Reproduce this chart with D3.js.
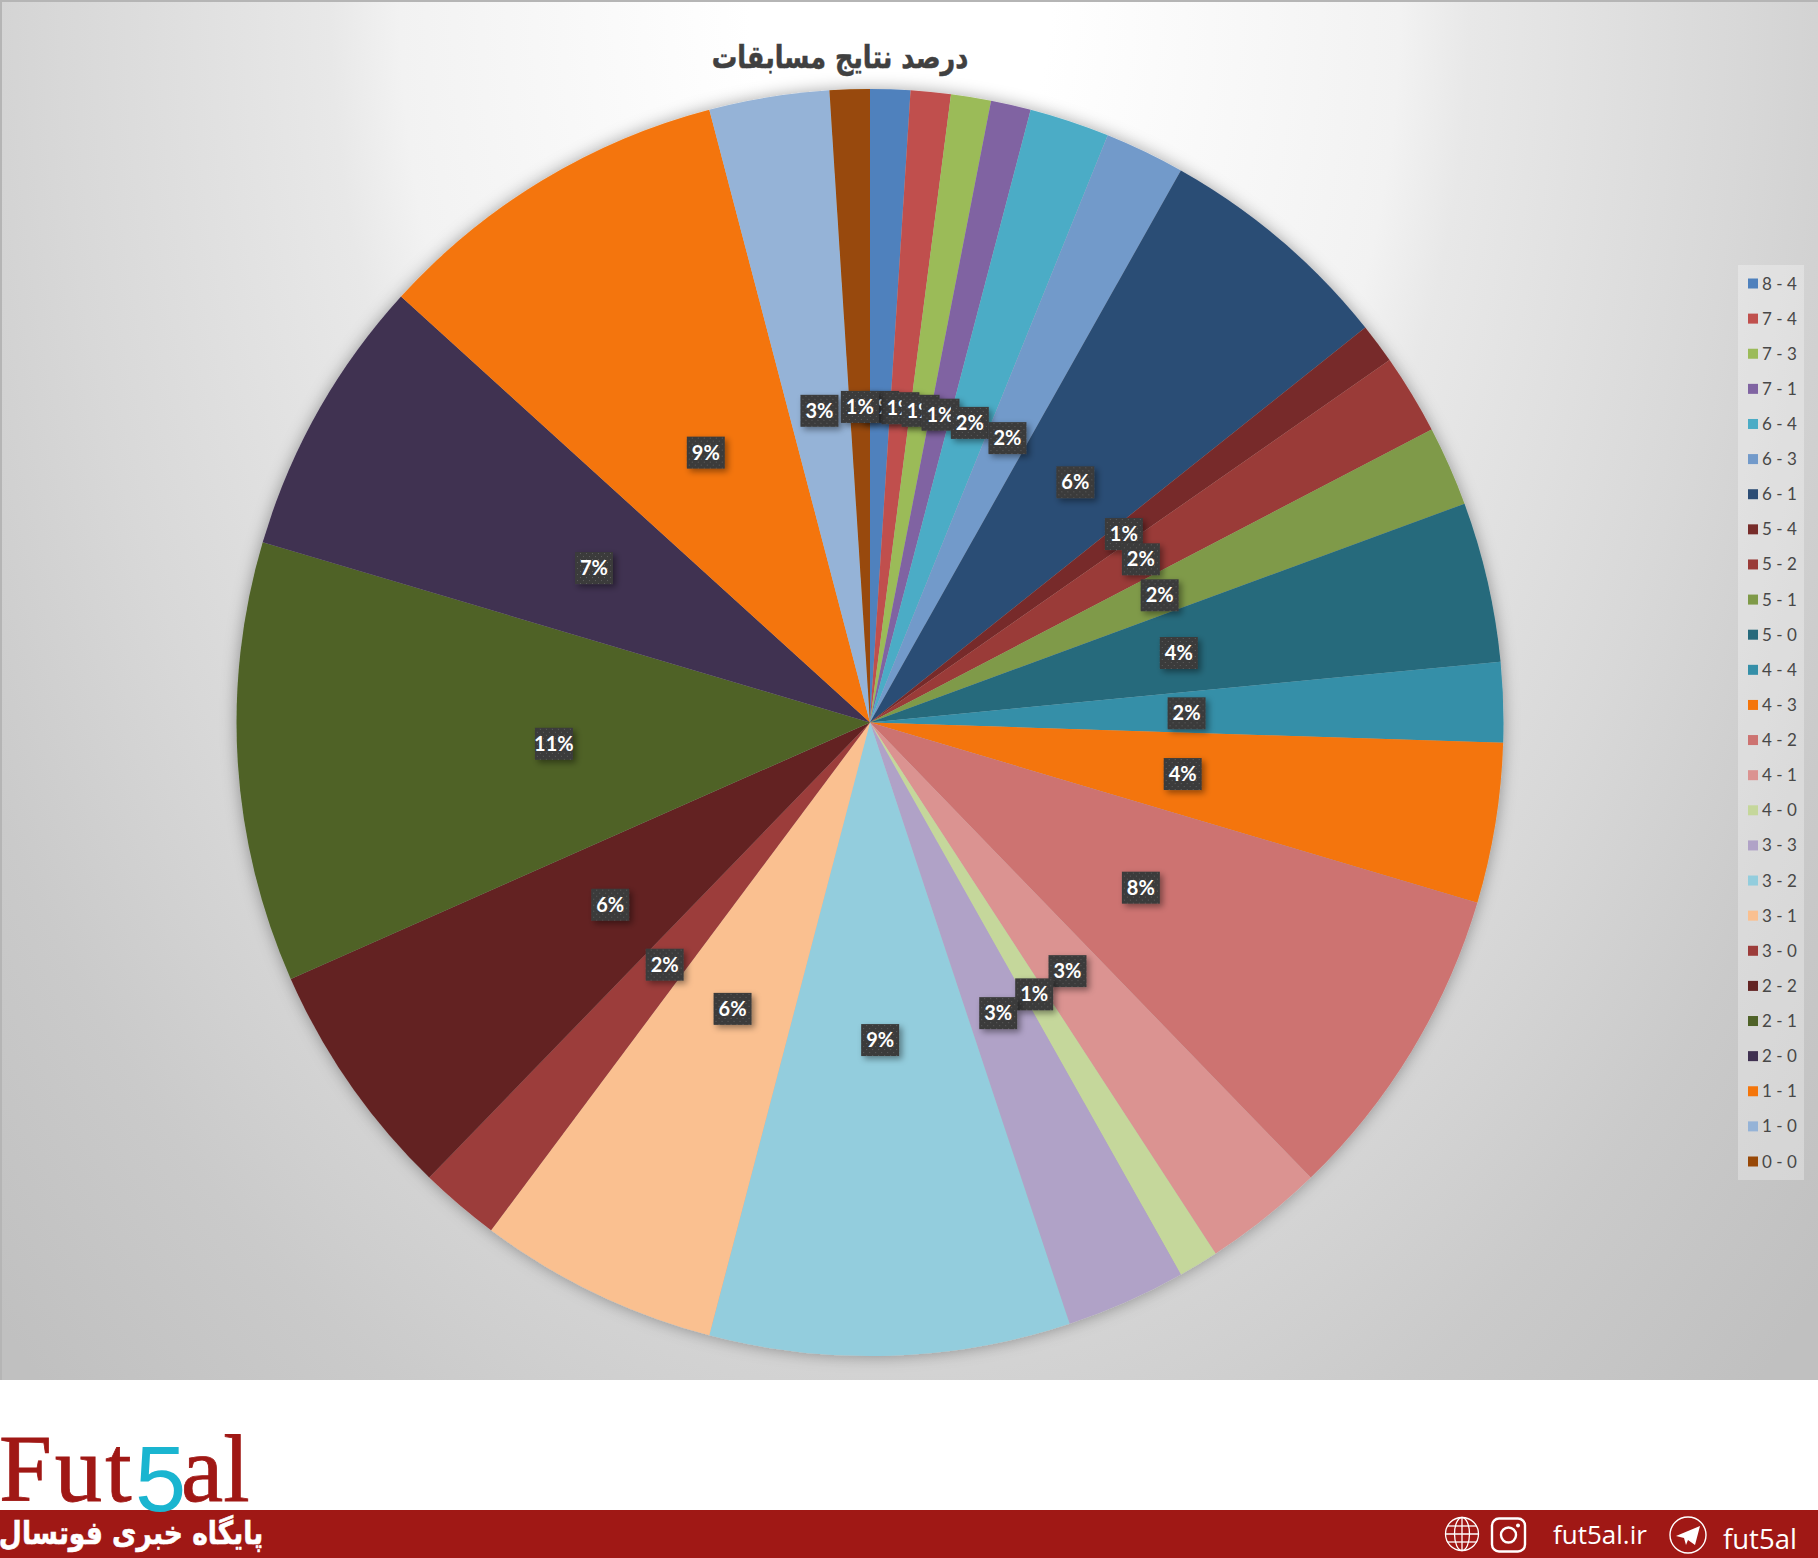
<!DOCTYPE html>
<html>
<head>
<meta charset="utf-8">
<script src="https://cdn.jsdelivr.net/npm/d3@7"></script>
<style>
body { margin: 0; background: #fff; }
svg { display: block; }
</style>
</head>
<body>
<div id="chart"></div>
<script>
const chartTitle = "درصد نتایج مسابقات";
const scores = ["8 - 4", "7 - 4", "7 - 3", "7 - 1", "6 - 4", "6 - 3", "6 - 1", "5 - 4", "5 - 2", "5 - 1", "5 - 0", "4 - 4", "4 - 3",
    "4 - 2", "4 - 1", "4 - 0", "3 - 3", "3 - 2", "3 - 1", "3 - 0", "2 - 2", "2 - 1", "2 - 0", "1 - 1", "1 - 0", "0 - 0"];
const matches = [1, 1, 1, 1, 2, 2, 6, 1, 2, 2, 4, 2, 4, 8, 3, 1, 3, 9, 6, 2, 6, 11, 7, 9, 3, 1];
const colors = ["#4f81bd", "#c0504d", "#9bbb59", "#8064a2", "#4bacc6", "#729aca", "#2c4d75", "#772c2a", "#9a3b38", "#7f9a48", "#276a7c", "#358fa8", "#f4750a",
    "#cd7371", "#db9391", "#c5d79b", "#b0a2c7", "#93cddd", "#fac090", "#9c3c3a", "#632423", "#4f6228", "#403151", "#f4750a", "#95b3d7", "#984807"];

const width = 1818, height = 1558;
const chartHeight = 1380, barTop = 1510;
const cx = 870, cy = 722.5, radius = 633.5;
const total = d3.sum(matches);

const svg = d3.select("#chart").append("svg")
    .attr("width", width)
    .attr("height", height);

const defs = svg.append("defs");

// elliptical background gradient, white at the top middle
const bg = defs.append("radialGradient")
    .attr("id", "bgGrad")
    .attr("gradientUnits", "userSpaceOnUse")
    .attr("cx", 0).attr("cy", 0).attr("r", 1.3)
    .attr("gradientTransform", "translate(900, 0) scale(1000, 1500)");
[[0.15, "#ffffff"], [0.5, "#f2f2f2"], [0.57, "#e8e8e8"], [0.84, "#d8d8d8"], [1.05, "#cacaca"], [1.26, "#c0c0c0"]].forEach(s => {
    bg.append("stop").attr("offset", s[0] / 1.3).attr("stop-color", s[1]);
});

const dots = defs.append("pattern")
    .attr("id", "labelDots")
    .attr("patternUnits", "userSpaceOnUse")
    .attr("width", 6).attr("height", 6);
dots.append("rect").attr("width", 6).attr("height", 6).attr("fill", "#3b3b3b");
dots.append("rect").attr("width", 1).attr("height", 1).attr("x", 1).attr("y", 1).attr("fill", "#5e5e5e");
dots.append("rect").attr("width", 1).attr("height", 1).attr("x", 4).attr("y", 4).attr("fill", "#5e5e5e");

const labelShadow = defs.append("filter").attr("id", "labelShadow")
    .attr("x", "-30%").attr("y", "-30%").attr("width", "170%").attr("height", "170%");
labelShadow.append("feDropShadow").attr("dx", 3).attr("dy", 3).attr("stdDeviation", 3)
    .attr("flood-color", "#000").attr("flood-opacity", 0.4);

const pieShadow = defs.append("filter").attr("id", "pieShadow")
    .attr("x", "-5%").attr("y", "-5%").attr("width", "110%").attr("height", "110%");
pieShadow.append("feDropShadow").attr("dx", 0).attr("dy", 0).attr("stdDeviation", 8)
    .attr("flood-color", "#000").attr("flood-opacity", 0.35);

// chart background
svg.append("rect")
    .attr("width", width)
    .attr("height", chartHeight)
    .attr("fill", "url(#bgGrad)");
svg.append("path")
    .attr("d", `M1,${chartHeight} V1 H${width}`)
    .attr("fill", "none")
    .attr("stroke", "#b5b5b5")
    .attr("stroke-width", 2);

svg.append("text")
    .attr("transform", "translate(840, 68) scale(0.85, 1.05)")
    .attr("text-anchor", "middle")
    .attr("font-family", "'DejaVu Sans'")
    .attr("font-weight", "bold")
    .attr("font-size", 30)
    .attr("fill", "#404040")
    .attr("stroke", "#404040").attr("stroke-width", 0.5)
    .text(chartTitle);

// pie
const pie = d3.pie().sort(null).value(d => d.count);
const arc = d3.arc().innerRadius(0).outerRadius(radius);
const arcs = pie(scores.map((s, i) => ({ score: s, count: matches[i], color: colors[i] })));

const pieGroup = svg.append("g").attr("transform", `translate(${cx}, ${cy})`);

pieGroup.append("g")
    .attr("filter", "url(#pieShadow)")
    .selectAll("path")
    .data(arcs)
    .enter()
.append("path")
    .attr("d", arc)
    .attr("fill", d => d.data.color);

const labels = pieGroup.selectAll(".label")
    .data(arcs)
    .enter()
.append("g")
    .attr("class", "label")
    .attr("transform", d => `translate(${arc.centroid(d)})`);

labels.append("rect")
    .attr("x", -19).attr("y", -15)
    .attr("width", 38).attr("height", 32)
    .attr("fill", "url(#labelDots)")
    .attr("filter", "url(#labelShadow)");

labels.append("text")
    .attr("text-anchor", "middle")
    .attr("y", 8)
    .attr("font-family", "Lato")
    .attr("font-weight", "bold")
    .attr("font-size", 20)
    .attr("fill", "#fff")
    .text(d => `${Math.round(d.data.count / total * 100)}%`);

// legend
svg.append("rect")
    .attr("x", 1738).attr("y", 265)
    .attr("width", 66).attr("height", 915)
    .attr("fill", "#fff")
    .attr("fill-opacity", 0.3);

const legendY = d3.scalePoint()
    .domain(scores)
    .range([283.5, 1161.5]);

const legend = svg.selectAll(".legendItem")
    .data(arcs)
    .enter()
.append("g")
    .attr("class", "legendItem")
    .attr("transform", d => `translate(1748, ${legendY(d.data.score)})`);

legend.append("rect")
    .attr("y", -5).attr("width", 10).attr("height", 10)
    .attr("fill", d => d.data.color);

legend.append("text")
    .attr("x", 14).attr("y", 6)
    .attr("font-family", "Lato")
    .attr("font-size", 17)
    .attr("fill", "#484848")
    .text(d => d.data.score);

// footer
const footerRed = "#a01815";
svg.append("rect")
    .attr("y", barTop)
    .attr("width", width)
    .attr("height", height - barTop)
    .attr("fill", footerRed);

const logoFont = "'Liberation Serif'";
svg.append("text")
    .attr("x", -1).attr("y", 1501)
    .attr("font-family", logoFont).attr("font-size", 95)
    .attr("letter-spacing", 3)
    .attr("fill", footerRed).attr("stroke", footerRed).attr("stroke-width", 0.8)
    .text("Fut");
svg.append("text")
    .attr("x", 135).attr("y", 1511)
    .attr("font-family", "'Liberation Sans'").attr("font-size", 92)
    .attr("fill", "#1ab5d0")
    .text("5");
svg.append("text")
    .attr("x", 181).attr("y", 1501)
    .attr("font-family", logoFont).attr("font-size", 95)
    .attr("fill", footerRed).attr("stroke", footerRed).attr("stroke-width", 0.8)
    .text("al");

svg.append("text")
    .attr("transform", "translate(131, 1544) scale(0.83, 1)")
    .attr("text-anchor", "middle")
    .attr("font-family", "'DejaVu Sans'")
    .attr("font-weight", "bold")
    .attr("font-size", 32)
    .attr("fill", "#fff")
    .attr("stroke", "#fff").attr("stroke-width", 0.6)
    .text("پایگاه خبری فوتسال");

svg.append("text")
    .attr("x", 1553).attr("y", 1544)
    .attr("font-family", "'Open Sans'").attr("font-size", 26)
    .attr("fill", "#fff")
    .text("fut5al.ir");
svg.append("text")
    .attr("x", 1723).attr("y", 1549)
    .attr("font-family", "'Open Sans'").attr("font-size", 27.5)
    .attr("fill", "#fff")
    .text("fut5al");

// globe icon
const globe = svg.append("g")
    .attr("transform", "translate(1462, 1534)")
    .attr("fill", "none").attr("stroke", "#fff").attr("stroke-width", 1.3);
globe.append("circle").attr("r", 16.5);
globe.append("ellipse").attr("rx", 7.5).attr("ry", 16.5);
globe.append("line").attr("y1", -16.5).attr("y2", 16.5);
globe.append("line").attr("x1", -16.5).attr("x2", 16.5);
globe.append("line").attr("x1", -14.5).attr("x2", 14.5).attr("y1", -8).attr("y2", -8);
globe.append("line").attr("x1", -14.5).attr("x2", 14.5).attr("y1", 8).attr("y2", 8);

// instagram icon
const insta = svg.append("g")
    .attr("transform", "translate(1508.5, 1535)");
insta.append("rect")
    .attr("x", -16.5).attr("y", -16.5).attr("width", 33).attr("height", 33).attr("rx", 7)
    .attr("fill", "none").attr("stroke", "#fff").attr("stroke-width", 2.4);
insta.append("circle").attr("r", 7.5)
    .attr("fill", "none").attr("stroke", "#fff").attr("stroke-width", 2.4);
insta.append("circle").attr("cx", 9.5).attr("cy", -9.5).attr("r", 2).attr("fill", "#fff");

// telegram icon
const tele = svg.append("g")
    .attr("transform", "translate(1688, 1535)");
tele.append("circle").attr("r", 18)
    .attr("fill", "none").attr("stroke", "#fff").attr("stroke-width", 1.4);
tele.append("path")
    .attr("d", "M-12,1 L12,-9 L7,10 L0,5 L-2,10 L-4,3 Z")
    .attr("fill", "#fff");
</script>
</body>
</html>
